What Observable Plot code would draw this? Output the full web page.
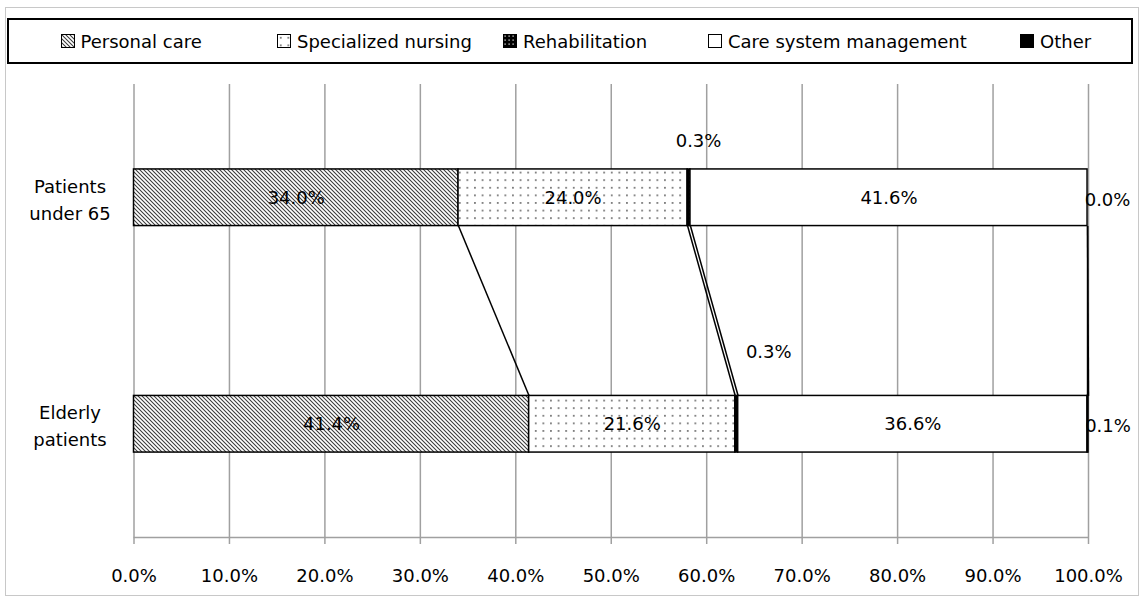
<!DOCTYPE html>
<html><head><meta charset="utf-8">
<script src="https://cdn.jsdelivr.net/npm/d3@7"></script>
<script src="https://cdn.jsdelivr.net/npm/@observablehq/plot@0.6"></script>
<style>
body{margin:0;background:#fff;font-family:"DejaVu Sans",sans-serif;}
#wrap{position:relative;width:1144px;height:600px;overflow:hidden;}
#frame{position:absolute;left:5px;top:7px;width:1134px;height:589px;border:1px solid #c8c8c8;box-sizing:border-box;}
#legend{position:absolute;left:7px;top:18px;width:1126px;height:46px;border:2px solid #000;box-sizing:border-box;}
.item{position:absolute;top:0;height:100%;display:flex;align-items:center;font-size:18px;color:#000;white-space:nowrap;}
.item svg{margin-right:5px;display:block}
#chart{position:absolute;left:0;top:70px;}
</style></head><body>
<svg width="0" height="0" style="position:absolute;left:0;top:0">
<defs>
<pattern id="pat0" patternUnits="userSpaceOnUse" width="4" height="4">
  <rect width="4" height="4" fill="#fff"/>
  <path d="M-1,-1L5,5M-1,3L1,5M3,-1L5,1" stroke="#3a3a3a" stroke-width="1.05"/>
</pattern>
<pattern id="pat1" patternUnits="userSpaceOnUse" width="7.6" height="7.6">
  <rect width="7.6" height="7.6" fill="#fff"/>
  <rect x="3" y="3" width="1.5" height="1.5" fill="#444"/>
</pattern>
<pattern id="pat2" patternUnits="userSpaceOnUse" width="4" height="4">
  <rect width="4" height="4" fill="#000"/>
  <rect x="1.5" y="1.5" width="1.2" height="1.2" fill="#fff"/>
</pattern>
<pattern id="pat3" patternUnits="userSpaceOnUse" width="4" height="4">
  <rect width="4" height="4" fill="#fff"/>
</pattern>
<pattern id="pat4" patternUnits="userSpaceOnUse" width="4" height="4">
  <rect width="4" height="4" fill="#000"/>
</pattern>
</defs></svg>
<div id="wrap"><div id="frame"></div><div id="legend"></div><div id="chart"></div></div>
<script>
// ---- data ----
const categories = ["Patients under 65", "Elderly patients"];
const series = ["Personal care", "Specialized nursing", "Rehabilitation", "Care system management", "Other"];
const under65 = [34.0, 24.0, 0.3, 41.6, 0.0];
const elderly = [41.4, 21.6, 0.3, 36.6, 0.1];
const xTicks = [0, 10, 20, 30, 40, 50, 60, 70, 80, 90, 100];

// ---- build table ----
const valuesByCategory = [under65, elderly];
const rows = [];
categories.forEach((c, ci) => {
  let acc = 0;
  series.forEach((s, si) => {
    const v = valuesByCategory[ci][si];
    rows.push({category: c, ci, series: s, si, value: v, x1: acc, x2: acc + v});
    acc += v;
  });
});
const half = 0.125; // bar half-height in band units (gap width 300%)
const links = series.map((s, si) => {
  const a = rows.find(r => r.ci === 0 && r.si === si);
  const b = rows.find(r => r.ci === 1 && r.si === si);
  return {x1: a.x2, y1: a.ci + 0.5 + half, x2: b.x2, y2: b.ci + 0.5 - half};
});
const fmt = v => v.toFixed(1) + "%";

// ---- legend ----
const legendLeft = [51.5, 268, 494, 699, 1011];
const legend = document.getElementById("legend");
series.forEach((s, si) => {
  const it = document.createElement("div");
  it.className = "item";
  it.style.left = legendLeft[si] + "px";
  it.innerHTML = `<svg width="15" height="15"><rect x="0.5" y="0.5" width="13" height="13" fill="url(#pat${si})" stroke="#000" stroke-width="1"/></svg><span>${s}</span>`;
  legend.appendChild(it);
});

// ---- chart ----
const marks = [
  Plot.gridX({ticks: xTicks, stroke: "#a0a0a0", strokeOpacity: 1, strokeWidth: 1.5}),
  Plot.ruleY([2], {stroke: "#a0a0a0", strokeWidth: 1.5}),
  Plot.axisX({ticks: xTicks, tickFormat: fmt, tickSize: 7, tickPadding: 25, stroke: "#a0a0a0", strokeWidth: 1.5, label: null}),
  ...series.map((s, si) => Plot.rect(rows.filter(r => r.si === si), {
    x1: "x1", x2: "x2", y1: r => r.ci + 0.5 - half, y2: r => r.ci + 0.5 + half,
    fill: `url(#pat${si})`, stroke: "#000", strokeWidth: 1.5
  })),
  Plot.link(links, {x1: "x1", y1: "y1", x2: "x2", y2: "y2", stroke: "#000", strokeWidth: 1.5}),
  Plot.text(rows.filter(r => r.si === 0 || r.si === 1 || r.si === 3), {
    x: r => (r.x1 + r.x2) / 2, y: r => r.ci + 0.5, text: r => fmt(r.value), fill: "#000"
  }),
  Plot.text(rows.filter(r => r.si === 2 && r.ci === 0), {
    x: r => (r.x1 + r.x2) / 2, y: r => r.ci + 0.5, text: r => fmt(r.value), dx: 9.5, dy: -57, fill: "#000"
  }),
  Plot.text(rows.filter(r => r.si === 2 && r.ci === 1), {
    x: r => (r.x1 + r.x2) / 2, y: r => r.ci + 0.5, text: r => fmt(r.value), dx: 32, dy: -72, fill: "#000"
  }),
  Plot.text(rows.filter(r => r.si === 4), {
    x: r => (r.x1 + r.x2) / 2, y: r => r.ci + 0.5, text: r => fmt(r.value), dx: 20, dy: 2, fill: "#000"
  }),
  Plot.text(categories, {
    y: (d, i) => i + 0.5, frameAnchor: "left", dx: -64, textAnchor: "middle",
    text: d => d.replace(" ", "\n"), lineHeight: 1.5, fill: "#000"
  })
];

const plot = Plot.plot({
  width: 1144,
  height: 530,
  marginTop: 14,
  marginBottom: 63,
  marginLeft: 133.5,
  marginRight: 56,
  x: {domain: [0, 100]},
  y: {domain: [0, 2], reverse: true, axis: null},
  style: {fontFamily: "'DejaVu Sans', sans-serif", fontSize: "18px", color: "#000", background: "transparent"},
  marks
});
document.getElementById("chart").appendChild(plot);
</script>
</body></html>
